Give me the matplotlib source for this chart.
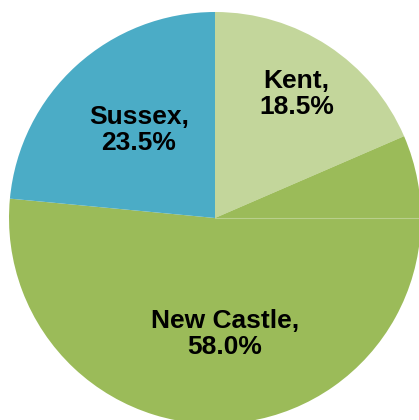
import matplotlib

matplotlib.use("Agg")

import matplotlib.pyplot as plt
import numpy as np

# --- data ------------------------------------------------------------------

counties = ["Kent", "New Castle", "Sussex"]
shares = [18.5, 58.0, 23.5]
colors = ["#c3d69b", "#9bbb59", "#4bacc6"]
label_r = [0.72, 0.57, 0.58]
label_nudge = [(0, 0), (-6, 0), (3, 0)]   # points

plt.rcParams["font.family"] = ["Liberation Sans", "DejaVu Sans"]

fig = plt.figure(figsize=(4.19, 4.20), dpi=100)
ax = fig.add_axes([0, 0, 1, 1])

wedges, _ = ax.pie(shares, colors=colors, startangle=90, counterclock=False,
                   radius=1.0, wedgeprops=dict(linewidth=0))

# pie is bigger than the canvas and gets clipped at right and bottom
scale = 206.0
ax.set_xlim(-215 / scale, (419 - 215) / scale)
ax.set_ylim(-(420 - 218) / scale, 218 / scale)
ax.axis("off")

# faint seam on the right
ax.plot([0, 1.1], [0, 0], color="#b9cf8c", lw=0.8, zorder=3)

for w, name, val, r, nd in zip(wedges, counties, shares, label_r, label_nudge):
    mid = np.deg2rad((w.theta1 + w.theta2) / 2)
    ax.annotate(f"{name},\n{val:.1f}%", (r * np.cos(mid), r * np.sin(mid)),
                xytext=nd, textcoords="offset points",
                ha="center", va="center", fontsize=19, fontweight="bold",
                color="#000000", linespacing=1.1)

fig.savefig("out.png", dpi=100)
